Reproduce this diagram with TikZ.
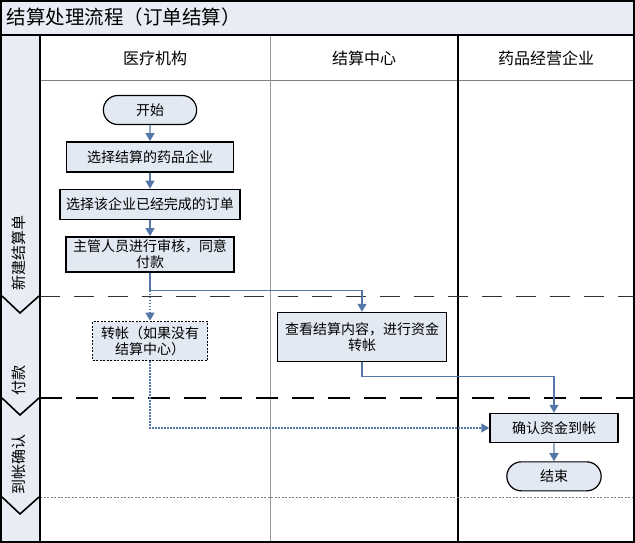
\documentclass[tikz,border=0pt]{standalone}
\usepackage{fontspec}
\setmainfont{Noto Sans CJK SC}
\usetikzlibrary{arrows.meta,positioning,shapes.misc}
\definecolor{barfill}{HTML}{E8EDF5}
\definecolor{boxfill}{HTML}{E3E9F3}
\definecolor{flowblue}{HTML}{5577A8}
\tikzset{process/.style={rectangle,draw=black,fill=boxfill,line width=1.5pt,align=center,inner sep=1.5pt,font=\fontsize{14}{16}\selectfont}}
\tikzset{terminal/.style={rounded rectangle,draw=black,fill=boxfill,line width=1.2pt,minimum width=100pt,minimum height=29pt,font=\fontsize{14}{18}\selectfont}}
\tikzset{optional/.style={process,line width=1.7pt,dash pattern=on 2pt off 1.5pt}}
\tikzset{flow/.style={draw=flowblue,line width=1.3pt,-{Triangle[width=9pt,length=8pt]}}}
\tikzset{flowdot/.style={flow,dash pattern=on 1.5pt off 1.5pt}}
\tikzset{lanelabel/.style={rotate=90,font=\fontsize{15}{18}\selectfont}}
\tikzset{header/.style={font=\fontsize{16}{19}\selectfont}}
\begin{document}
\begin{tikzpicture}[x=1pt,y=-1pt]
\useasboundingbox (0,0) rectangle (635,543);
% frame, title bar and lanes
\fill[barfill] (0,0) rectangle (635,35);
\fill[barfill] (0,35) rectangle (40,543);
\node (title) [anchor=west,font=\fontsize{19.5}{22}\selectfont] at (3,17) {结算处理流程（订单结算）};
\draw[gray,line width=0.8pt] (40,80) -- (635,80);
\draw[gray!80,line width=0.9pt] (270,35) -- (270,543);
\draw[black,line width=1.4pt] (458,35) -- (458,543);
\draw[black!80,line width=1pt,dash pattern=on 20pt off 14pt] (40,296) -- (635,296);
\draw[black,line width=2pt,dash pattern=on 22pt off 14pt] (40,398) -- (635,398);
\draw[gray,line width=0.9pt,dash pattern=on 2pt off 1.5pt] (40,497) -- (635,497);
\foreach \y in {296,398,497}
  \draw[black,line width=1.6pt] (2,\y) -- (20,\y+17) -- (39,\y);
\draw[black,line width=2.4pt] (40,35) -- (40,543);
\draw[black,line width=2.4pt] (0,35) -- (635,35);
\draw[black,line width=2.4pt] (1,1) rectangle (634,542);
\node (hosp) [header] at (155,58) {医疗机构};
\node (center) [header] at (364,58) {结算中心};
\node (firm) [header] at (546,58) {药品经营企业};
\node (lnew) [lanelabel] at (19,253) {新建结算单};
\node (lpay) [lanelabel] at (19,380) {付款};
\node (lchk) [lanelabel] at (19,464) {到帐确认};
% flow
\begin{scope}[node distance=16pt]
	\node (start) [terminal] at (150,110) {开始};
	\node (pick) [process, minimum width=167pt, minimum height=30pt, below =of start] {选择结算的药品企业};
	\node (order) [process, minimum width=180pt, minimum height=30pt, below =of pick] {选择该企业已经完成的订单};
	\node (audit) [process, minimum width=168pt, minimum height=35pt, below =of order] {主管人员进行审核，同意\\付款};
	\node (direct) [optional, minimum width=115pt, minimum height=39pt] at (150,341) {转帐（如果没有\\结算中心）};
	\node (review) [process, minimum width=169pt, minimum height=49pt] at (362,337) {查看结算内容，进行资金\\转帐};
	\node (confirm) [process, minimum width=128pt, minimum height=29pt] at (554,428) {确认资金到帐};
	\node (finish) [terminal, minimum width=101pt, below =18pt of confirm] {结束};
\end{scope}
\draw[flow] (start) -- (pick);
\draw[flow] (pick) -- (order);
\draw[flow] (order) -- (audit);
\draw[flow] (audit.south) -- ++(0,18) -| (review.north);
\draw[flowdot] (audit.south) -- (direct.north);
\draw[flowdot] (direct.south) |- (confirm.west);
\draw[flow] (review.south) -- ++(0,14) -| (confirm.north);
\draw[flow] (confirm) -- (finish);
\end{tikzpicture}
\end{document}
